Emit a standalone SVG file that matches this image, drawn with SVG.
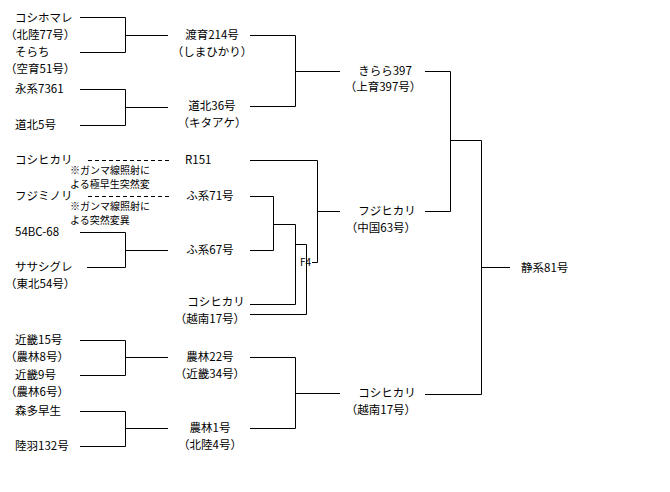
<svg xmlns="http://www.w3.org/2000/svg" width="670" height="492" viewBox="0 0 670 492">
<style>
text{font-family:"Noto Sans CJK JP","DejaVu Sans",sans-serif;font-size:11.5px;fill:#000}
.m{text-anchor:middle}
.s{font-size:10px}
#connectors path{fill:none;stroke:#000;stroke-width:1}
.d{stroke-dasharray:4,3}
</style>
<rect width="670" height="492" fill="#fff"/>
<g id="connectors">
<path d="M80 17.5H125.5V52.5H80M125.5 35.5H168"/>
<path d="M80 89.5H125.5V125.5H80M125.5 107.5H168"/>
<path d="M250 35.5H295.5V106.5H250M295.5 71.5H340"/>
<path class="d" d="M88 160.5H172M88 196.5H172"/>
<path d="M80 232.5H125.5V267.5H87M125.5 250.5H168"/>
<path d="M250 196.5H273.5V250.5H250M273.5 224.5H295.5V304.5H250M295.5 244.5H306.5V314.5H250"/>
<path d="M250 160.5H317.5V262.5H312M317.5 211.5H340"/>
<path d="M80 340.5H125.5V375.5H80M125.5 357.5H168"/>
<path d="M80 411.5H125.5V446.5H80M125.5 428.5H168"/>
<path d="M250 357.5H295.5V428.5H250M295.5 393.5H340"/>
<path d="M425 71.5H450.5V211.5H425M450.5 140.5H481.5V394.5H425M481.5 267.5H510"/>
</g>
<g id="n1"><text x="15" y="22">コシホマレ</text><text x="5" y="39">（北陸77号）</text></g>
<g id="n2"><text x="15" y="56">そらち</text><text x="5" y="73">（空育51号）</text></g>
<g id="n3"><text x="15" y="93">永系7361</text></g>
<g id="n4"><text x="15" y="129">道北5号</text></g>
<g id="n5"><text x="15" y="164">コシヒカリ</text></g>
<g id="n6"><text x="15" y="200">フジミノリ</text></g>
<g id="notes"><text class="s" x="70" y="174">※ガンマ線照射に</text><text class="s" x="70" y="188">よる極早生突然変</text><text class="s" x="70" y="210">※ガンマ線照射に</text><text class="s" x="70" y="224">よる突然変異</text></g>
<g id="n7"><text x="15" y="236">54BC-68</text></g>
<g id="n8"><text x="15" y="271">ササシグレ</text><text x="5" y="288">（東北54号）</text></g>
<g id="n9"><text x="15" y="344">近畿15号</text><text x="5" y="361">（農林8号）</text></g>
<g id="n10"><text x="15" y="379">近畿9号</text><text x="5" y="396">（農林6号）</text></g>
<g id="n11"><text x="15" y="415">森多早生</text></g>
<g id="n12"><text x="15" y="450">陸羽132号</text></g>
<g id="m1"><text class="m" x="212" y="39">渡育214号</text><text class="m" x="212" y="56">（しまひかり）</text></g>
<g id="m2"><text class="m" x="212" y="110">道北36号</text><text class="m" x="212" y="127">（キタアケ）</text></g>
<g id="m3"><text x="185" y="164">R151</text></g>
<g id="m4"><text class="m" x="210" y="200">ふ系71号</text></g>
<g id="m5"><text class="m" x="210" y="254">ふ系67号</text></g>
<g id="m6"><text class="m" x="216" y="306">コシヒカリ</text><text class="m" x="210" y="323">（越南17号）</text></g>
<g id="f4"><text class="s" x="300" y="266">F4</text></g>
<g id="m7"><text class="m" x="210" y="361">農林22号</text><text class="m" x="210" y="378">（近畿34号）</text></g>
<g id="m8"><text class="m" x="210" y="432">農林1号</text><text class="m" x="210" y="449">（北陸4号）</text></g>
<g id="r1"><text class="m" x="385" y="75">きらら397</text><text class="m" x="383" y="91">（上育397号）</text></g>
<g id="r2"><text class="m" x="387" y="215">フジヒカリ</text><text class="m" x="381" y="232">（中国63号）</text></g>
<g id="r3"><text class="m" x="387" y="397">コシヒカリ</text><text class="m" x="381" y="414">（越南17号）</text></g>
<g id="root"><text x="521" y="272">静系81号</text></g>
</svg>
